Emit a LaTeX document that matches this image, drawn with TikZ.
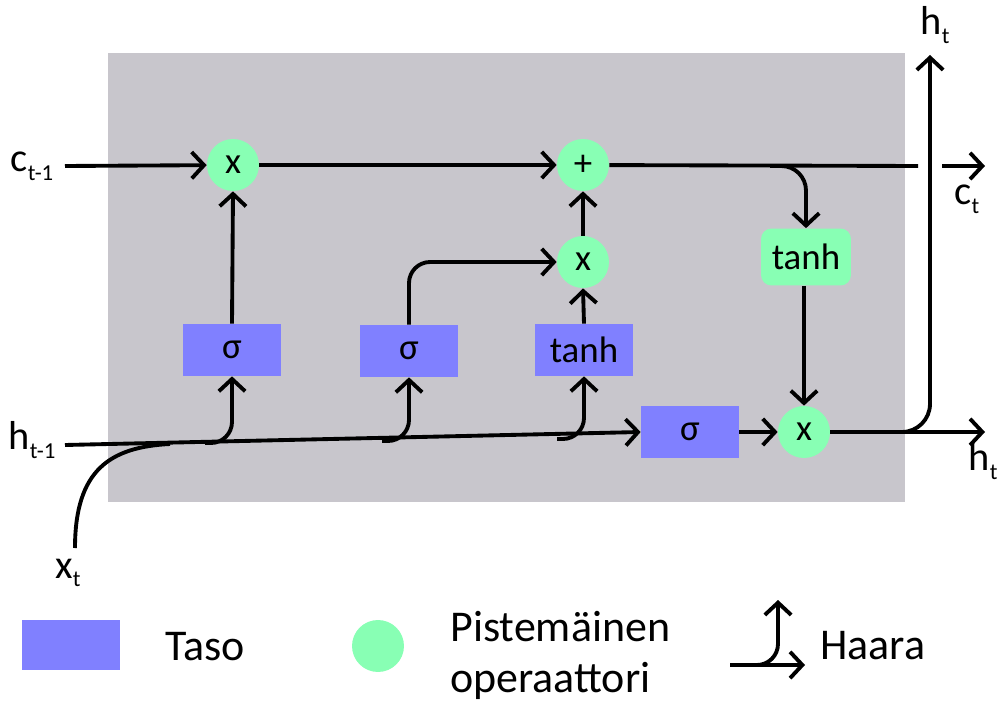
\documentclass[tikz,border=0pt]{standalone}
\usepackage{fontspec}
\setmainfont{Carlito}
\usetikzlibrary{arrows.meta}
\definecolor{cellgray}{RGB}{200,198,204}
\definecolor{layerblue}{RGB}{128,128,255}
\definecolor{opgreen}{RGB}{136,255,180}
\newcommand\sublab[2]{{\fontsize{23}{23}\selectfont #1}{\fontsize{13}{13}\selectfont\raisebox{-5pt}{#2}}}
\begin{document}
\begin{tikzpicture}[x=0.02cm,y=-0.02cm,
  wire/.style={line width=2.2pt},
  arr/.style={wire,-{Straight Barb[length=7pt,width=15pt,line width=2.2pt]}},
  layer/.style={fill=layerblue,minimum width=1.96cm,minimum height=1.04cm,inner sep=0pt,font=\fontsize{21}{21}\selectfont},
  op/.style={circle,fill=opgreen,minimum size=1.04cm,inner sep=0pt,font=\fontsize{21}{21}\selectfont},
  opbox/.style={fill=opgreen,rounded corners=6pt,minimum width=1.8cm,minimum height=1.14cm,inner sep=0pt,font=\fontsize{21}{21}\selectfont},
  lab/.style={inner sep=0pt},
  legend/.style={inner sep=0pt,font=\fontsize{25}{29}\selectfont,align=left}]
\useasboundingbox (0,0) rectangle (998,706);

% cell background
\fill[cellgray] (108,53) rectangle (905,502);

% operators
\node[op] (f1) at (233,165) {x};
\node[op] (plus) at (583,165) {+};
\node[op] (mx) at (583,262) {x};
\node[op] (o) at (804,432) {x};
\node[opbox] (tc) at (806,257) {tanh};

% layers
\node[layer] (s1) at (232,350) {σ};
\node[layer] (s2) at (409,351) {σ};
\node[layer] (tl) at (584,350) {tanh};
\node[layer] (s4) at (690,432) {σ};

% end points
\coordinate (cin) at (65,166);
\coordinate (cgap) at (918,166);
\coordinate (cre) at (942,166);
\coordinate (cout) at (985,166);
\coordinate (hin) at (65,445);
\coordinate (hout) at (985,432);
\coordinate (hup) at (930,55);
\coordinate (xin) at (75,548);
\coordinate (xj) at (170,444);

% labels
\node[lab] (lc) at (32,166) {\sublab{c}{t-1}};
\node[lab] (lh) at (32,440) {\sublab{h}{t-1}};
\node[lab] (lx) at (68,573) {\sublab{x}{t}};
\node[lab] (lct) at (967,199) {\sublab{c}{t}};
\node[lab] (lht) at (983,461) {\sublab{h}{t}};
\node[lab] (lhu) at (935,25) {\sublab{h}{t}};

% cell state
\draw[arr] (cin) -- (f1);
\draw[arr] (f1) -- (plus);
\draw[wire] (plus) -- (cgap);
\draw[arr] (cre) -- (cout);
\draw[arr,rounded corners=14pt] (770,166) -| (tc.north);
\draw[arr] (tc.south -| o.north) -- (o.north);

% gates
\draw[arr] (s1.north) -- (f1.south);
\draw[arr,rounded corners=12pt] (s2.north) |- (mx.west);
\draw[arr] (tl.north) -- (mx.south);
\draw[arr] (mx.north) -- (plus.south);
\draw[arr] (s4.east) -- (o.west);

% hidden state input and branches
\draw[arr] (hin) -- (s4.west);
\draw[wire] (xin) .. controls (75,470) and (110,447) .. (xj);
\draw[arr,rounded corners=12pt] (205,443) -| (s1.south);
\draw[arr,rounded corners=12pt] (382,441) -| (s2.south);
\draw[arr,rounded corners=12pt] (557,439) -| (tl.south);

% output
\draw[arr] (o.east) -- (hout);
\draw[arr,rounded corners=16pt] (900,432) -| (hup);

% legend
\node[layer,minimum width=1.96cm,minimum height=1.0cm] (kl) at (71,645) {};
\node[legend,anchor=west] (klt) at (165,647) {Taso};
\node[op] (ko) at (378,646) {};
\node[legend,anchor=west] (kot) at (450,655) {Pistemäinen\\operaattori};
\coordinate (kb0) at (730,665);
\coordinate (kb1) at (805,665);
\coordinate (kb2) at (778,600);
\draw[arr] (kb0) -- (kb1);
\draw[arr,rounded corners=12pt] (755,665) -| (kb2);
\node[legend,anchor=west] (kbt) at (820,646) {Haara};
\end{tikzpicture}
\end{document}
